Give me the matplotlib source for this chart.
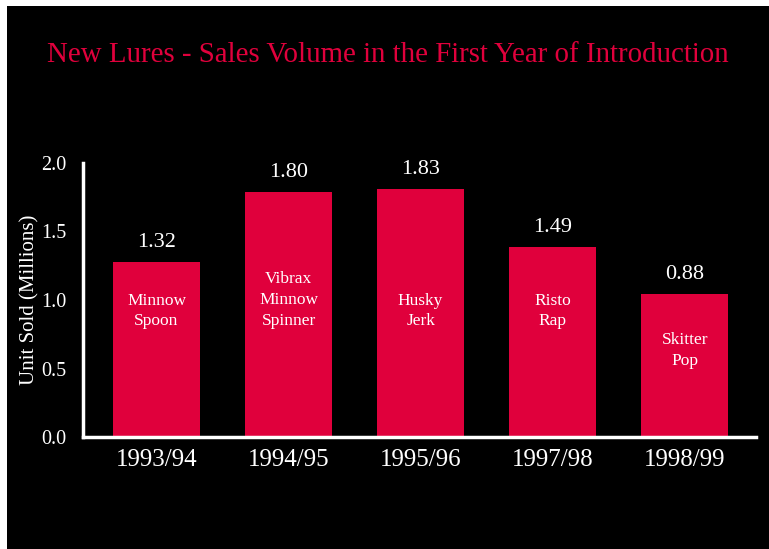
import matplotlib.pyplot as plt
from matplotlib.patches import Rectangle

# --- Data ---------------------------------------------------------------------
SEASONS = ["1993/94", "1994/95", "1995/96", "1997/98", "1998/99"]
LURES = ["Minnow\nSpoon", "Vibrax\nMinnow\nSpinner", "Husky\nJerk", "Risto\nRap", "Skitter\nPop"]
BAR_HEIGHTS = [1.28, 1.79, 1.81, 1.39, 1.045]
VALUE_LABELS = ["1.32", "1.80", "1.83", "1.49", "0.88"]

# --- Layout -------------------------------------------------------------------
INNER_LABEL_Y = [0.92, 1.0, 0.92, 0.92, 0.63]
RED = "#E0003C"
FONT = "Liberation Serif"

plt.rcParams["font.family"] = FONT

fig = plt.figure(figsize=(7.69, 5.49), dpi=100)
fig.patch.set_facecolor("white")
fig.add_artist(Rectangle((7 / 769, -0.1), 1.1, 1.1 - 6 / 549, transform=fig.transFigure,
                         facecolor="black", edgecolor="none", zorder=-10))

ax = fig.add_axes([83 / 769, 1 - 437 / 549, (756 - 83) / 769, (437 - 163) / 549])
ax.set_facecolor("none")

x = range(len(SEASONS))
ax.bar(x, BAR_HEIGHTS, width=0.66, color=RED, zorder=2)

for i, (h, val, lure, ly) in enumerate(zip(BAR_HEIGHTS, VALUE_LABELS, LURES, INNER_LABEL_Y)):
    ax.annotate(val, (i, h), xytext=(0, 14), textcoords="offset points",
                ha="center", va="center", color="white", fontsize=16)
    ax.text(i, ly, lure, ha="center", va="center", color="white",
            fontsize=12.5, linespacing=1.4, zorder=3)

ax.set_xlim(-0.557, 4.54)
ax.set_ylim(0, 2.0)
ax.set_xticks(list(x))
ax.set_xticklabels(SEASONS)
ax.set_yticks([0, 0.5, 1.0, 1.5, 2.0])
ax.set_yticklabels(["0.0", "0.5", "1.0", "1.5", "2.0"])
ax.tick_params(axis="x", length=0, pad=9, labelsize=18, labelcolor="white")
ax.tick_params(axis="y", length=0, pad=12, labelsize=14.5, labelcolor="white")

for side in ("top", "right"):
    ax.spines[side].set_visible(False)
for side in ("left", "bottom"):
    ax.spines[side].set_color("white")
    ax.spines[side].set_linewidth(2.5)
    ax.spines[side].set_zorder(4)

ax.set_ylabel("Unit Sold (Millions)", color="white", fontsize=15, labelpad=1)

fig.text(388 / 769, 1 - 55 / 549,
         "New Lures - Sales Volume in the First Year of Introduction",
         ha="center", va="center", color=RED, fontsize=20.8)

fig.savefig("out.png", dpi=100)
